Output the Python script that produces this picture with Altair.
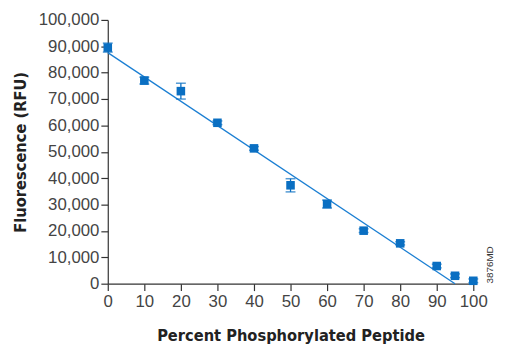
import altair as alt
import pandas as pd

pct = [0, 10, 20, 30, 40, 50, 60, 70, 80, 90, 95, 100]
rfu = [89500, 77000, 73000, 61000, 51300, 37300, 30200, 20100, 15300, 6700, 3000, 1100]
err = [1700, 1300, 3000, 700, 700, 2500, 1500, 700, 600, 700, 700, 700]

fit_x = [0, 95]
fit_y = [87600, 0]

df = pd.DataFrame({"pct": pct, "rfu": rfu, "err": err})
df["lo"] = df["rfu"] - df["err"]
df["hi"] = df["rfu"] + df["err"]
fit = pd.DataFrame({"pct": fit_x, "rfu": fit_y})

blue = "#0a6fc2"
label_font = "Liberation Sans"
title_font = "DejaVu Sans Condensed, DejaVu Sans, sans-serif"

xs = alt.Scale(domain=[0, 100], nice=False)
ys = alt.Scale(domain=[0, 100000], nice=False)

xaxis = alt.Axis(values=list(range(0, 101, 10)), title="Percent Phosphorylated Peptide",
                 grid=False, tickSize=7, labelPadding=3, titlePadding=19)
yaxis = alt.Axis(values=list(range(0, 100001, 10000)), format=",d", title="Fluorescence (RFU)",
                 grid=False, tickSize=7, labelPadding=2, titlePadding=10)


def X(field="pct"):
    return alt.X(f"{field}:Q", scale=xs, axis=xaxis)


def Y(field):
    return alt.Y(f"{field}:Q", scale=ys, axis=yaxis)


base = alt.Chart(df)

line = alt.Chart(fit).mark_line(color="#1b7fd3", strokeWidth=1.3).encode(
    x=X(), y=Y("rfu"),
)

bars = base.mark_rule(color=blue, strokeWidth=1.3).encode(
    x=X(), y=Y("lo"), y2="hi:Q"
)
cap_hi = base.mark_tick(color=blue, thickness=1.5, size=10, orient="horizontal").encode(
    x=X(), y=Y("hi")
)
cap_lo = base.mark_tick(color=blue, thickness=1.5, size=10, orient="horizontal").encode(
    x=X(), y=Y("lo")
)
pts = base.mark_square(color=blue, size=75, opacity=1).encode(
    x=X(), y=Y("rfu")
)

code = alt.Chart(pd.DataFrame({"t": ["3876MD"]})).mark_text(
    angle=270, fontSize=10, font=label_font, color="#333"
).encode(text="t:N", x=alt.value(387), y=alt.value(248))

chart = alt.layer(line, bars, cap_hi, cap_lo, pts, code).properties(
    width=370, height=267,
    autosize=alt.AutoSizeParams(type="none"),
    padding={"left": 101, "top": 10, "right": 24, "bottom": 60},
).configure_view(stroke=None).configure_axis(
    domainColor="#333", tickColor="#333", domainWidth=1.2, tickWidth=1.2,
    labelFont=label_font, labelFontSize=17, labelColor="#444",
    titleFont=title_font, titleFontSize=16.5, titleFontWeight="bold", titleColor="#222",
    labelFlush=False,
)

chart.save("out.html", embed_options={"renderer": "svg", "actions": False})
